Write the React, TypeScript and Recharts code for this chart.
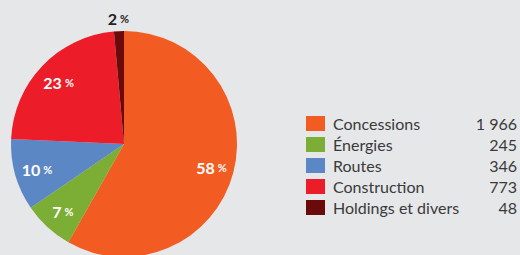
import React from 'react';
import { PieChart, Pie, Cell, Legend } from 'recharts';

const categories = ['Concessions', 'Énergies', 'Routes', 'Construction', 'Holdings et divers'];
const values = [1966, 245, 346, 773, 48];
const valueLabels = ['1 966', '245', '346', '773', '48'];
const percentLabels = ['58', '7', '10', '23', '2'];
const colors = ['#f25c22', '#7cad35', '#5b87c5', '#ed1c29', '#6b0a0a'];

const data = categories.map((name, i) => ({ name, value: values[i] }));

const FONT = 'Lato, "Noto Sans", sans-serif';
const RAD = Math.PI / 180;

const renderLabel = (props: any) => {
  const { cx, cy, midAngle, outerRadius, index } = props;
  const small = values[index] / values.reduce((a, b) => a + b, 0) < 0.03;
  const r = small ? outerRadius + 13 : outerRadius * 0.8;
  const x = cx + r * Math.cos(-midAngle * RAD);
  const y = cy + r * Math.sin(-midAngle * RAD);
  return (
    <text
      x={x}
      y={y}
      textAnchor="middle"
      dominantBaseline="central"
      fill={small ? '#222222' : '#ffffff'}
      fontFamily={FONT}
      fontWeight={700}
    >
      <tspan fontSize={16}>{percentLabels[index]}</tspan>
      <tspan fontSize={11} dx={3}>%</tspan>
    </text>
  );
};

const renderLegend = () => (
  <div style={{ fontFamily: FONT, fontSize: 16, color: '#3a3a3a' }}>
    {categories.map((c, i) => (
      <div key={c} style={{ display: 'flex', alignItems: 'center', height: 21 }}>
        <div style={{ width: 19, height: 15, background: colors[i], marginRight: 8 }} />
        <div style={{ flex: 1, lineHeight: '21px' }}>{c}</div>
        <div style={{ lineHeight: '21px', textAlign: 'right' }}>{valueLabels[i]}</div>
      </div>
    ))}
  </div>
);

export default function App() {
  return (
    <div style={{ position: 'absolute', left: 0, top: 0, width: 520, height: 255, background: '#e6e7e9', overflow: 'hidden' }}>
      <PieChart width={520} height={255} margin={{ top: 0, right: 0, bottom: 0, left: 0 }}>
        <Pie
          data={data}
          dataKey="value"
          nameKey="name"
          cx={124}
          cy={144}
          outerRadius={113}
          startAngle={90}
          endAngle={-270}
          stroke="none"
          label={renderLabel}
          labelLine={false}
          isAnimationActive={false}
        >
          {data.map((d, i) => (
            <Cell key={d.name} fill={colors[i]} />
          ))}
        </Pie>
        <Legend
          content={renderLegend}
          layout="vertical"
          wrapperStyle={{ position: 'absolute', left: 306, top: 113, width: 211 }}
        />
      </PieChart>
    </div>
  );
}
